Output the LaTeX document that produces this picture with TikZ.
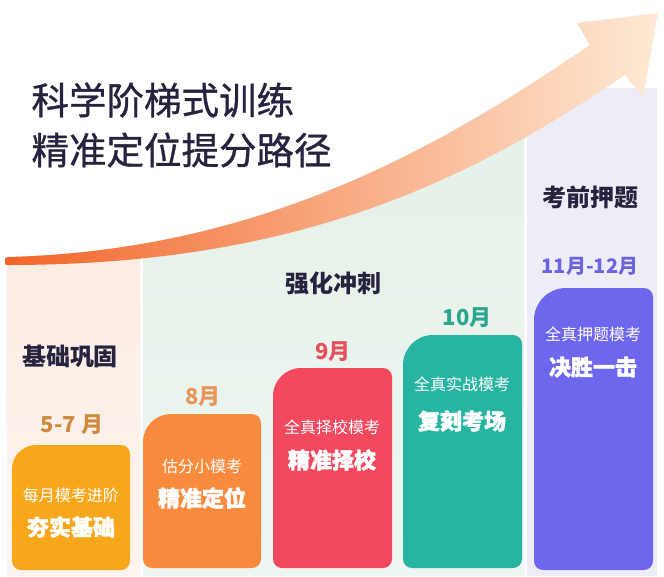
\documentclass[tikz,border=0pt]{standalone}
\usepackage{fontspec}
\setmainfont{Noto Sans CJK SC}
\newfontfamily\titlefont[FakeBold=0.8]{Noto Sans CJK SC}
\newfontfamily\heavyfont[BoldFeatures={FakeBold=1.6}]{Noto Sans CJK SC}

\definecolor{headdark}{HTML}{27233F}
\definecolor{peach}{HTML}{FCEBE2}
\definecolor{peachlight}{HTML}{FDF4EF}
\definecolor{mint}{HTML}{E4F0E8}
\definecolor{mintlight}{HTML}{EEF6F1}
\definecolor{lavender}{HTML}{EEEDF7}
\definecolor{arrowstart}{HTML}{F26529}
\definecolor{arrowmid}{HTML}{F68C55}
\definecolor{arrowend}{HTML}{FEEAD5}
\definecolor{gold}{HTML}{F7A71C}
\definecolor{tangerine}{HTML}{F98B3F}
\definecolor{coral}{HTML}{F2495E}
\definecolor{teal}{HTML}{27B5A2}
\definecolor{violet}{HTML}{6E67EE}
\definecolor{goldtext}{HTML}{CD8C3D}
\definecolor{tangerinetext}{HTML}{E8955A}
\definecolor{coraltext}{HTML}{E6505D}
\definecolor{tealtext}{HTML}{2CA58D}
\definecolor{violettext}{HTML}{6B64DC}

\begin{document}
\begin{tikzpicture}[x=1pt,y=-1pt,
    heading/.style={font=\bfseries\fontsize{24}{26}\selectfont,text=headdark},
    month/.style={font=\bfseries\fontsize{22}{24}\selectfont},
    subtext/.style={font=\fontsize{16}{18}\selectfont,text=white},
    maintext/.style={font=\heavyfont\bfseries\fontsize{22}{24}\selectfont,text=white}]
\useasboundingbox (0,0) rectangle (664,576);
\fill[white] (0,0) rectangle (664,576);

% stage panels, kept below the arrow
\begin{scope}
  \clip (0,576) -- (0,257) -- (8,257) .. controls (270,250) and (450,140) .. (590,45) -- (664,45) -- (664,576) -- cycle;
  \shade[top color=peach, bottom color=peachlight] (7,200) rectangle (140,576);
  \shade[top color=mint, bottom color=mintlight] (143,100) rectangle (524,576);
  \fill[lavender] (527,88) rectangle (657,576);
\end{scope}

% rising arrow
\shade[left color=arrowstart, middle color=arrowmid, right color=arrowend]
  (5,261) .. controls (5,258) .. (8,257) .. controls (270,250) and (450,140) .. (590,45)
  -- (577,23) -- (658,13) -- (643,97) -- (625,75)
  .. controls (470,180) and (300,265) .. (8,265) .. controls (5,265) .. (5,261) -- cycle;

% title
\node[anchor=west, font=\titlefont\fontsize{37.5}{40}\selectfont, text=headdark] (title1) at (28,100) {科学阶梯式训练};
\node[anchor=west, font=\titlefont\fontsize{37.5}{40}\selectfont, text=headdark] (title2) at (28,150) {精准定位提分路径};

% stage headings
\node[heading] (basic) at (70,356) {基础巩固};
\node[heading] (sprint) at (333,283) {强化冲刺};
\node[heading] (final) at (590,197) {考前押题};

% bars, big round corner at top left
\fill[gold] (12,469) arc[start angle=180, end angle=270, radius=24] -- (121,445) arc[start angle=270, end angle=360, radius=9]
  -- (130,561) arc[start angle=0, end angle=90, radius=9] -- (21,570) arc[start angle=90, end angle=180, radius=9] -- cycle;
\fill[tangerine] (143,442) arc[start angle=180, end angle=270, radius=28] -- (252,414) arc[start angle=270, end angle=360, radius=9]
  -- (261,559) arc[start angle=0, end angle=90, radius=9] -- (152,568) arc[start angle=90, end angle=180, radius=9] -- cycle;
\fill[coral] (273,396) arc[start angle=180, end angle=270, radius=28] -- (383,368) arc[start angle=270, end angle=360, radius=9]
  -- (392,559) arc[start angle=0, end angle=90, radius=9] -- (282,568) arc[start angle=90, end angle=180, radius=9] -- cycle;
\fill[teal] (403,365) arc[start angle=180, end angle=270, radius=30] -- (513,335) arc[start angle=270, end angle=360, radius=9]
  -- (522,559) arc[start angle=0, end angle=90, radius=9] -- (412,568) arc[start angle=90, end angle=180, radius=9] -- cycle;
\fill[violet] (534,320) arc[start angle=180, end angle=270, radius=32] -- (644,288) arc[start angle=270, end angle=360, radius=9]
  -- (653,561) arc[start angle=0, end angle=90, radius=9] -- (543,570) arc[start angle=90, end angle=180, radius=9] -- cycle;

% months
\node[month, text=goldtext] (m57) at (72,425) {5-7 月};
\node[month, text=tangerinetext] (m8) at (203,397) {8月};
\node[month, text=coraltext] (m9) at (333,352) {9月};
\node[month, text=tealtext] (m10) at (467,318) {10月};
\node[month, text=violettext, font=\bfseries\fontsize{20}{22}\selectfont] (m1112) at (590,266) {11月-12月};

% bar texts
\node[subtext] (s1) at (71,495) {每月模考进阶};
\node[maintext] (t1) at (71,527) {夯实基础};
\node[subtext] (s2) at (202,466) {估分小模考};
\node[maintext] (t2) at (202,498) {精准定位};
\node[subtext] (s3) at (332,427) {全真择校模考};
\node[maintext] (t3) at (332,460) {精准择校};
\node[subtext] (s4) at (462,384) {全真实战模考};
\node[maintext] (t4) at (462,421) {复刻考场};
\node[subtext] (s5) at (593,334) {全真押题模考};
\node[maintext] (t5) at (593,367) {决胜一击};
\end{tikzpicture}
\end{document}
